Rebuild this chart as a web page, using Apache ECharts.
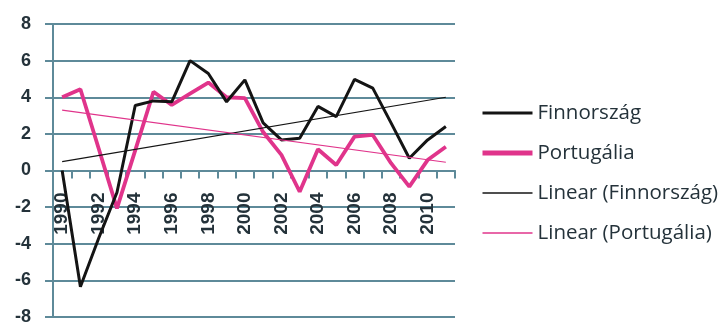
<!DOCTYPE html>
<html>
<head>
<meta charset="utf-8">
<script src="https://cdn.jsdelivr.net/npm/echarts@6/dist/echarts.min.js"></script>
<style>
html,body{margin:0;padding:0;background:#fff;}
#c{width:725px;height:326px;}
</style>
</head>
<body>
<div id="c"></div>
<script>
const years = ['1990','1991','1992','1993','1994','1995','1996','1997','1998','1999','2000',
  '2001','2002','2003','2004','2005','2006','2007','2008','2009','2010','2011'];
const finnorszag = [0, -6.35, -3.7, -1.2, 3.55, 3.8, 3.75, 6.0, 5.3, 3.75, 4.95,
  2.6, 1.67, 1.76, 3.5, 2.94, 4.98, 4.5, 2.6, 0.67, 1.67, 2.4];
const portugalia = [4.0, 4.44, 1.2, -2.07, 1.1, 4.3, 3.58, 4.2, 4.8, 4.0, 3.95,
  2.1, 0.85, -1.16, 1.16, 0.3, 1.85, 1.94, 0.4, -0.88, 0.57, 1.3];
// trend line endpoints (1990 and 2011)
const trendYears = ['1990', '2011'];
const finTrend = [0.48, 4.0];
const porTrend = [3.3, 0.45];
const yTicks = { min: -8, max: 8, step: 2 };

const names = ['Finnország', 'Portugália', 'Linear (Finnország)', 'Linear (Portugália)'];
const BLACK = '#141414', PINK = '#e0348b';
const GRID = '#5e8a99';
const TXT = '#24323a';

const chart = echarts.init(document.getElementById('c'));
chart.setOption({
  animation: false,
  backgroundColor: '#fff',
  grid: [
    { left: 53, right: 270, top: 24, bottom: 9, containLabel: false, outerBoundsMode: 'none' },
    // upper half grid whose bottom edge sits on the zero line, used to place the year labels there
    { left: 53, right: 270, top: 24, bottom: 155.5, containLabel: false, outerBoundsMode: 'none' }
  ],
  legend: {
    orient: 'vertical', left: 475, top: 97,
    itemWidth: 50, itemHeight: 14, itemGap: 18,
    itemStyle: { opacity: 0 },
    textStyle: { fontFamily: 'Open Sans', fontSize: 20.5, color: TXT, lineHeight: 22 },
    data: [
      { name: names[0], lineStyle: { width: 3, color: BLACK } },
      { name: names[1], lineStyle: { width: 5, color: PINK } },
      { name: names[2], lineStyle: { width: 1.3, color: BLACK } },
      { name: names[3], lineStyle: { width: 1.5, color: PINK } }
    ]
  },
  xAxis: [
    {
      type: 'category', data: years, boundaryGap: true, gridIndex: 0,
      axisLine: { onZero: true, lineStyle: { color: GRID, width: 2 } },
      axisTick: { show: true, interval: 0, length: 8, inside: false, lineStyle: { color: GRID, width: 2 } },
      axisLabel: { show: false },
      splitLine: { show: false }
    },
    {
      type: 'category', data: years, boundaryGap: true, gridIndex: 1, position: 'bottom',
      axisLine: { show: false }, axisTick: { show: false }, splitLine: { show: false },
      axisLabel: { interval: 1, rotate: 90, margin: 22, fontFamily: 'Liberation Sans', fontWeight: 'bold', fontSize: 19, color: TXT }
    }
  ],
  yAxis: [
    {
      type: 'value', min: yTicks.min, max: yTicks.max, interval: yTicks.step, gridIndex: 0,
      axisLine: { show: true, lineStyle: { color: GRID, width: 2 } },
      axisTick: { show: true, length: 8, lineStyle: { color: GRID, width: 2 } },
      axisLabel: { margin: 22, fontFamily: 'Liberation Sans', fontWeight: 'bold', fontSize: 18, color: TXT },
      splitLine: { show: true, lineStyle: { color: GRID, width: 2 } }
    },
    { type: 'value', min: 0, max: yTicks.max, gridIndex: 1, show: false }
  ],
  series: [
    { name: names[0], type: 'line', data: finnorszag, symbol: 'none', z: 4,
      lineStyle: { color: BLACK, width: 3 }, itemStyle: { color: BLACK } },
    { name: names[1], type: 'line', data: portugalia, symbol: 'none', z: 3,
      lineStyle: { color: PINK, width: 3.8 }, itemStyle: { color: PINK } },
    { name: names[2], type: 'line', data: trendYears.map((y, i) => [y, finTrend[i]]), symbol: 'none', z: 5,
      lineStyle: { color: BLACK, width: 1.2 }, itemStyle: { color: BLACK } },
    { name: names[3], type: 'line', data: trendYears.map((y, i) => [y, porTrend[i]]), symbol: 'none', z: 5,
      lineStyle: { color: PINK, width: 1.2 }, itemStyle: { color: PINK } }
  ]
});
</script>
</body>
</html>
